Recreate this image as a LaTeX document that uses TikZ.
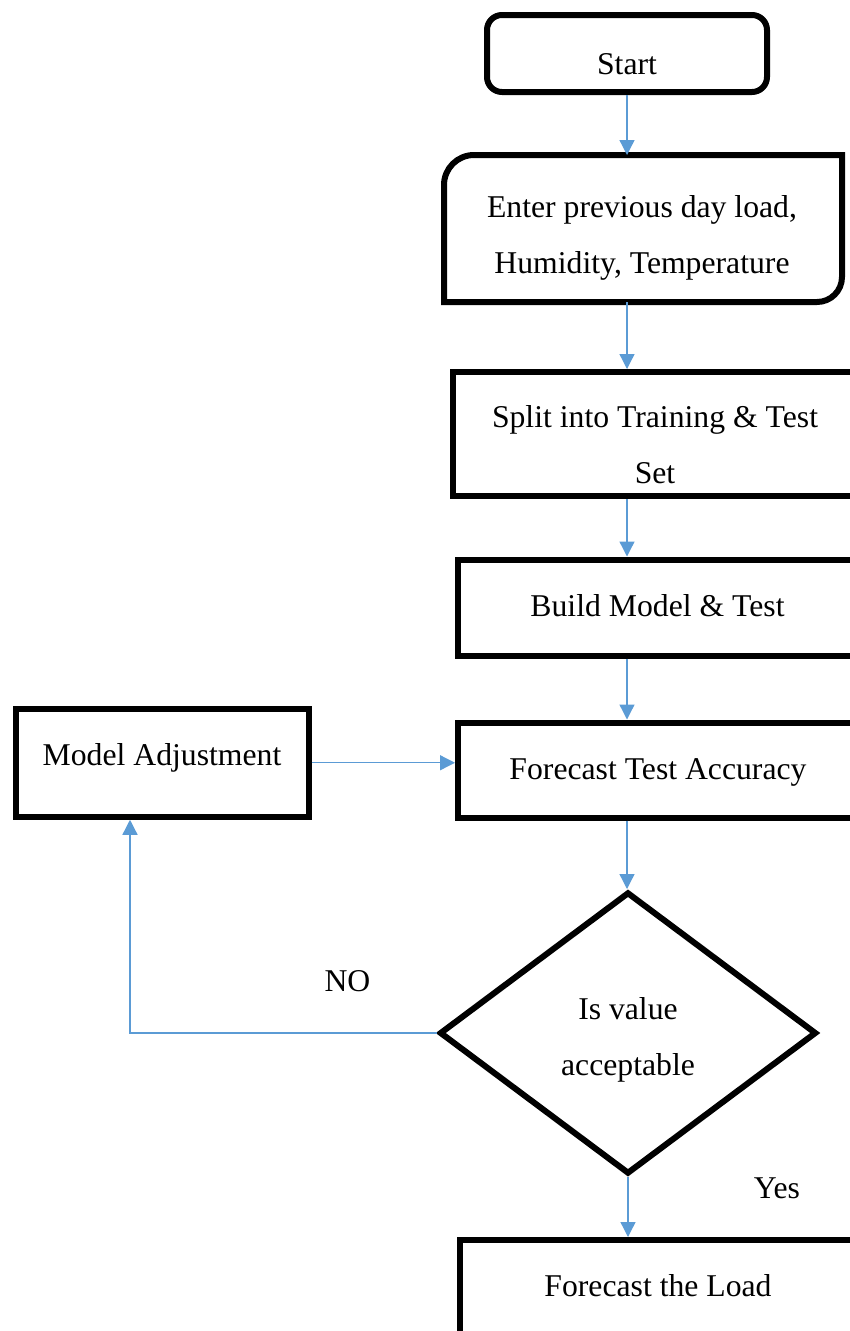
\documentclass[tikz,border=0pt]{standalone}
\usepackage{fontspec}
\setmainfont{Liberation Serif}
\usetikzlibrary{calc,positioning,shapes.geometric,arrows.meta}
\definecolor{flowline}{RGB}{91,155,213}
\definecolor{flowedge}{RGB}{0,0,0}
\tikzset{
 procbox/.style={draw=flowedge, line width=6pt, inner sep=0pt},
 procbox start/.style={procbox, rounded corners=15pt},
 procbox decide/.style={procbox, diamond},
 proctext/.style={font=\fontsize{31.7}{56}\selectfont, align=center,
          inner sep=0pt},
 flowarrow/.style={draw=flowline, line width=1.3pt,
          -{Triangle[length=15pt,width=15pt]}},
}
\begin{document}
\begin{tikzpicture}[x=1pt, y=-1pt]
\useasboundingbox (0,0) rectangle (850,1331);
\clip (0,0) rectangle (850,1331);
% Main column; the right-hand boxes run past the page edge.
\node[procbox start, minimum width=280pt, minimum height=77pt] (start) at (627,53.5) {};
\node[minimum width=398pt, minimum height=147pt, outer sep=0pt] (input) at (643,228.5) {};
\draw[draw=flowedge, line width=6pt] (input.south west)
  -- ([yshift=-30pt]input.north west) arc[start angle=180, end angle=90, radius=30pt]
  -- (input.north east)
  -- ([yshift=25pt]input.south east) arc[start angle=0, end angle=-90, radius=25pt]
  -- cycle;
\node[procbox, minimum width=407pt, minimum height=124pt] (split) at (656.5,434) {};
\node[procbox, minimum width=402pt, minimum height=96pt] (build) at (659,607.5) {};
\node[procbox, minimum width=402pt, minimum height=95pt] (accuracy) at (659,770) {};
\node[procbox decide, minimum width=377pt, minimum height=282pt] (check) at (628,1033) {};
\node[procbox, minimum width=400pt, minimum height=120pt] (load) at (660,1300) {};
% Side loop
\node[procbox, minimum width=293pt, minimum height=108pt] (adjust) at (162,762.75) {};
\coordinate (noturn) at (130,1033);
% Texts
\node[proctext, anchor=base] (start text) at (627,74) {Start};
\node[proctext] (input text) at (642,237.5) {Enter previous day load,\\Humidity, Temperature};
\node[proctext] (split text) at (655,445) {Split into Training \& Test\\Set};
\node[proctext, anchor=base] (build text) at (657.5,616.7) {Build Model \& Test};
\node[proctext, anchor=base] (accuracy text) at (658,779) {Forecast Test Accuracy};
\node[proctext] (check text) at (628,1040) {Is value\\acceptable};
\node[proctext, anchor=base] (load text) at (658,1296.7) {Forecast the Load};
\node[proctext, anchor=base] (adjust text) at (162,765) {Model Adjustment};
\node[proctext, anchor=base] (no text) at (347.5,991.7) {NO};
\node[proctext, anchor=base] (yes text) at (777,1198.3) {Yes};
% Connectors
\draw[flowarrow] (start.south) -- (start.south |- input.north);
\draw[flowarrow] (input.south -| start) -- (split.north -| start);
\draw[flowarrow] (split.south -| start) -- (build.north -| start);
\draw[flowarrow] (build.south -| start) -- (accuracy.north -| start);
\draw[flowarrow] (accuracy.south -| start) -- (check.north -| start);
\draw[flowarrow] (check.south) -- (check.south |- load.north);
\draw[flowarrow] (check.west) -- (noturn) -- (noturn |- adjust.south);
\draw[flowarrow] (adjust.east) -- (adjust.east -| accuracy.west);
\end{tikzpicture}
\end{document}
